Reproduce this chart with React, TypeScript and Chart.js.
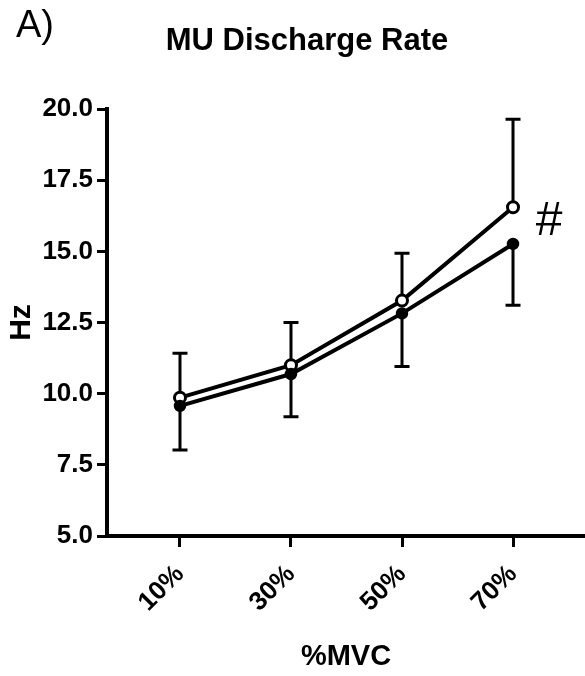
import React, { useEffect, useRef } from "react";
import { Chart, registerables } from "chart.js";

Chart.register(...registerables);

const categories = [10, 30, 50, 70];
const openMeans = [9.86, 11.0, 13.27, 16.55];
const openSD = [1.56, 1.5, 1.66, 3.09];
const filledMeans = [9.57, 10.69, 12.82, 15.26];
const filledSD = [1.55, 1.5, 1.87, 2.15];
const yTicks = [5, 7.5, 10, 12.5, 15, 17.5, 20];

const NARROW = "'Liberation Sans Narrow', 'Liberation Sans', Arial, sans-serif";
const SANS = "'Liberation Sans', Arial, sans-serif";

const errorBars = {
  id: "errorBars",
  beforeDatasetsDraw(chart: any) {
    const { ctx, scales } = chart;
    const xs = scales.x;
    const ys = scales.y;
    ctx.save();
    ctx.strokeStyle = "#000";
    ctx.lineWidth = 3;
    const cap = 7.5;
    const draw = (x: number, y0: number, y1: number) => {
      ctx.beginPath();
      ctx.moveTo(x, y0);
      ctx.lineTo(x, y1);
      ctx.moveTo(x - cap, y1);
      ctx.lineTo(x + cap, y1);
      ctx.stroke();
    };
    categories.forEach((c, i) => {
      const x = xs.getPixelForValue(c);
      draw(x, ys.getPixelForValue(openMeans[i]), ys.getPixelForValue(openMeans[i] + openSD[i]));
      draw(x, ys.getPixelForValue(filledMeans[i]), ys.getPixelForValue(filledMeans[i] - filledSD[i]));
    });
    ctx.restore();
  },
};

const texts = {
  id: "texts",
  afterDraw(chart: any) {
    const { ctx, scales } = chart;
    ctx.save();
    ctx.fillStyle = "#000";
    ctx.textBaseline = "alphabetic";
    ctx.textAlign = "left";
    ctx.font = `38px ${SANS}`;
    ctx.fillText("A)", 16, 37);
    ctx.textAlign = "center";
    ctx.font = `bold 31px ${NARROW}`;
    ctx.fillText("MU Discharge Rate", 307, 50);
    ctx.font = `48px ${NARROW}`;
    const x = scales.x.getPixelForValue(70) + 36;
    const y = scales.y.getPixelForValue(openMeans[3]) + 28;
    ctx.fillText("#", x, y);
    ctx.restore();
  },
};

export default function App() {
  const ref = useRef<HTMLCanvasElement>(null);
  useEffect(() => {
    const chart = new Chart(ref.current!, {
      type: "line",
      data: {
        datasets: [
          {
            label: "Filled",
            data: categories.map((c, i) => ({ x: c, y: filledMeans[i] })),
            borderColor: "#000",
            backgroundColor: "#000",
            borderWidth: 4,
            pointRadius: 5,
            pointBorderWidth: 2.5,
            pointBackgroundColor: "#000",
            pointBorderColor: "#000",
          },
          {
            label: "Open",
            data: categories.map((c, i) => ({ x: c, y: openMeans[i] })),
            borderColor: "#000",
            backgroundColor: "#fff",
            borderWidth: 4,
            pointRadius: 5.5,
            pointBorderWidth: 3,
            pointBackgroundColor: "#fff",
            pointBorderColor: "#000",
          },
        ],
      },
      options: {
        animation: false,
        responsive: true,
        maintainAspectRatio: false,
        layout: { autoPadding: false, padding: { left: 0, top: 109, right: 0, bottom: 0 } },
        plugins: { legend: { display: false }, title: { display: false }, tooltip: { enabled: false } },
        scales: {
          x: {
            type: "linear",
            min: -3.15,
            max: 82.97,
            afterBuildTicks: (s: any) => {
              s.ticks = categories.map((v) => ({ value: v }));
            },
            afterFit: (s: any) => {
              s.height = 140;
              s.paddingLeft = 0;
              s.paddingRight = 0;
            },
            grid: { drawOnChartArea: false, drawTicks: true, tickLength: 11, tickWidth: 3, tickColor: "#000" },
            border: { display: true, color: "#000", width: 4 },
            ticks: {
              minRotation: 45,
              maxRotation: 45,
              padding: 12,
              color: "#000",
              font: { family: NARROW, size: 26, weight: "bold" },
              callback: (v: any) => `${v}%`,
            },
            title: {
              display: true,
              text: "%MVC",
              color: "#000",
              font: { family: NARROW, size: 29, weight: "bold", lineHeight: 1 },
              padding: { top: 0, bottom: 5 },
            },
          },
          y: {
            type: "linear",
            min: 5,
            max: 20,
            afterBuildTicks: (s: any) => {
              s.ticks = yTicks.map((v) => ({ value: v }));
            },
            afterFit: (s: any) => {
              s.width = 107;
              s.paddingTop = 0;
              s.paddingBottom = 0;
            },
            grid: { drawOnChartArea: false, drawTicks: true, tickLength: 10, tickWidth: 3, tickColor: "#000" },
            border: { display: true, color: "#000", width: 4 },
            ticks: {
              padding: 4,
              color: "#000",
              font: { family: NARROW, size: 26, weight: "bold" },
              callback: (v: any) => Number(v).toFixed(1),
            },
            title: {
              display: true,
              text: "Hz",
              color: "#000",
              font: { family: NARROW, size: 30, weight: "bold", lineHeight: 1 },
              padding: { top: 7, bottom: 0 },
            },
          },
        },
      },
      plugins: [errorBars, texts],
    } as any);
    return () => chart.destroy();
  }, []);
  return (
    <div style={{ position: "fixed", left: 0, top: 0, width: 585, height: 676 }}>
      <canvas ref={ref} />
    </div>
  );
}
